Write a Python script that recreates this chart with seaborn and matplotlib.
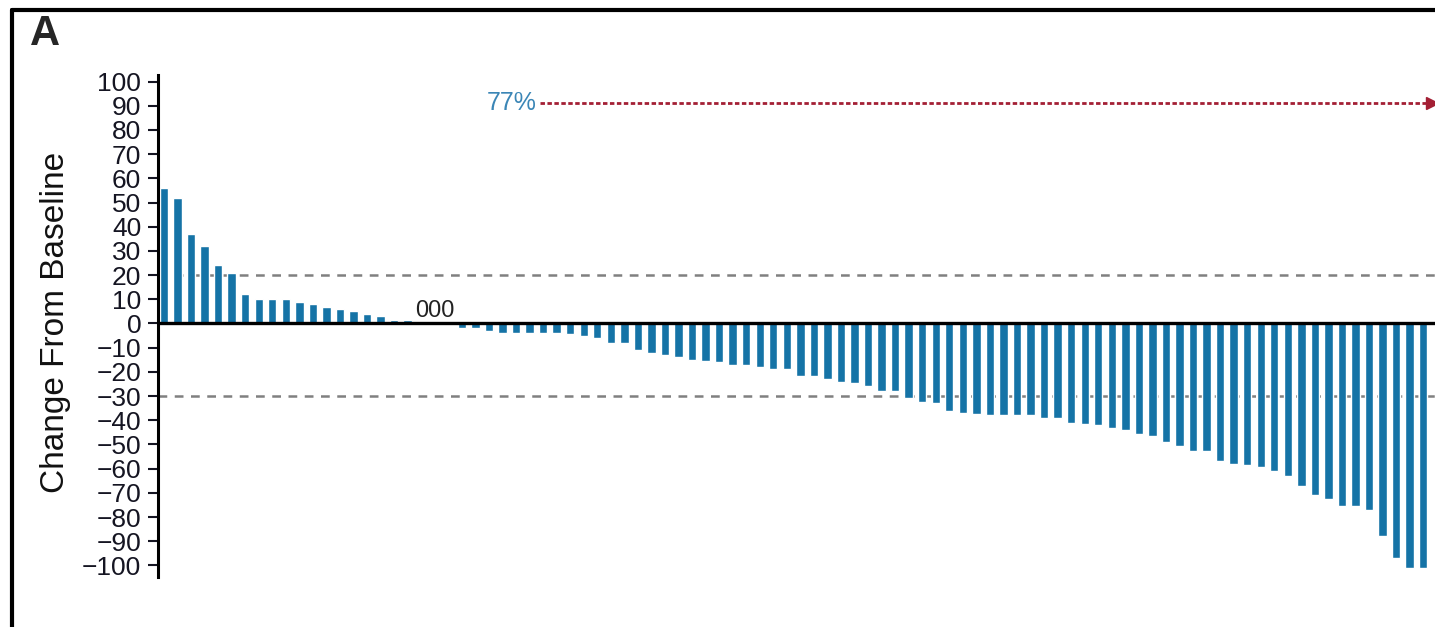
import matplotlib
matplotlib.use("Agg")
import matplotlib.pyplot as plt
from matplotlib.lines import Line2D
import seaborn as sns
import pandas as pd

# Best % change from baseline, one bar per patient (sorted)
positive = [56, 52, 37, 32, 24, 21, 12, 10, 10, 10, 9, 8, 7, 6, 5, 4, 3, 1.5, 1.5]
no_change = [0, 0, 0]
negative = [-2, -2, -3, -4, -4, -4, -4, -4, -4.5, -5, -6, -8, -8, -11, -12, -13,
            -14, -15, -15.5, -16, -17, -17, -18, -19,
            -19, -21.5, -21.5, -23, -24, -24.5, -26, -28, -28, -31, -32.5, -33,
            -36, -37, -37.5, -38, -38, -38, -38, -39, -39, -41, -41.5, -42,
            -43, -44, -45.5, -46.5, -49, -50.5, -52.5, -52.5, -57, -58, -58.5,
            -59.5, -61, -63, -67, -71, -72.5, -75.5, -75.5, -77, -88, -97, -101, -101]
yticks = list(range(-100, 101, 10))
response_label = "77%"
zero_label = "000"

change = positive + no_change + negative
df = pd.DataFrame({"patient": range(1, len(change) + 1), "change": change})

sns.set_style("ticks")
plt.rcParams["font.family"] = ["Liberation Sans", "DejaVu Sans"]

bar_color = "#1573a6"
red = "#a31f34"

fig = plt.figure(figsize=(14.35, 6.27), dpi=100)
ax = fig.add_axes([0.1101, 0.0797, 0.8899, 0.8006])

sns.barplot(data=df, x="patient", y="change", color=bar_color, saturation=1,
            width=0.62, ax=ax, zorder=2)

# reference lines
ax.axhline(0, color="black", lw=2.4, zorder=3)
ax.axhline(20, color="#808080", lw=1.8, ls=(0, (3.5, 3)), zorder=1)
ax.axhline(-30, color="#808080", lw=1.8, ls=(0, (3.5, 3)), zorder=1)

ax.set_xlim(-0.44, len(change) - 0.13)
ax.set_ylim(-104.8, 102.7)
ax.set_yticks(yticks)
ax.tick_params(axis="y", labelsize=19, length=7, width=1.5, pad=5,
               colors="#151522")
ax.set_xticks([])
ax.set_xlabel("")
ax.set_ylabel("Change From Baseline", fontsize=24, color="#111111")
ax.yaxis.set_label_coords(-0.068, 0.508)
sns.despine(ax=ax, top=True, right=True, bottom=True)
ax.spines["left"].set_linewidth(2.2)
ax.spines["left"].set_color("black")

# "000" above the three unchanged patients
mid_zero = len(positive) + len(no_change) // 2
ax.text(mid_zero, 0.8, zero_label, ha="center", va="bottom", fontsize=17,
        color="#222222")

# responder arrow
x_start = 27.8
x_end = len(change) - 0.35
ax.plot([x_start, x_end], [91, 91], color=red, lw=2, ls=(0, (1.6, 0.9)),
        marker=">", markevery=[1], ms=8, clip_on=False, zorder=4)
ax.text(x_start - 0.3, 91, response_label, ha="right", va="center",
        fontsize=18, color="#3b86b6")

# panel letter and frame
fig.text(0.021, 0.978, "A", fontsize=30, fontweight="bold", va="top", ha="left")
fig.add_artist(Line2D([0.0084, 1.0], [0.9841, 0.9841], color="black", lw=3,
                      transform=fig.transFigure))
fig.add_artist(Line2D([0.0084, 0.0084], [0.0, 0.9841], color="black", lw=3,
                      transform=fig.transFigure))

fig.savefig("out.png", dpi=100, facecolor="white")
